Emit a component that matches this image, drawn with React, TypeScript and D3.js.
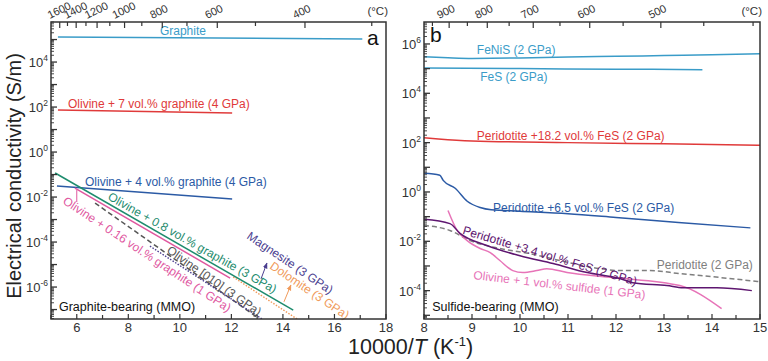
import React from "react";
import * as d3 from "d3";

// x = 10000/T (K^-1), y = electrical conductivity (S/m)
// panel a: graphite-bearing
const graphite = [[5.27, 1.3e5], [17.08, 1.05e5]];
const olivine7Graphite = [[5.27, 74], [12.03, 54]];
const olivine4Graphite = [[5.23, 3.1e-2], [12.03, 8.1e-3]];
const olivine08Graphite = [[5.16, 1.17e-1], [14.4, 9.5e-8]];
const olivine016Graphite = [[5.93, 2.5e-2], [11.95, 2.5e-6]];
const olivine010 = [[6.71, 5.4e-3], [13.04, 4.2e-8]];
const magnesite = [[8.84, 6.6e-5], [13.19, 3.8e-8]];
const dolomite = [[12.07, 2.8e-6], [14.55, 3.8e-8]];

// panel b: sulfide-bearing
const feNiS = [[8, 3.0e5], [8.5, 2.75e5], [9, 2.6e5], [10, 2.7e5], [10.5, 2.8e5], [11, 2.95e5], [12, 3.15e5], [13, 3.4e5], [14, 3.65e5], [15, 4.0e5]];
const feS = [[8, 1.05e5], [10, 1.0e5], [12, 9.5e4], [13.8, 9.1e4]];
const peridotite182 = [[8, 158], [8.3, 141], [9, 117], [11, 100], [13, 89], [15, 79]];
const peridotite65 = [[8, 5.75], [8.33, 4.8], [8.4, 2.95], [8.65, 1.41], [8.9, 0.42], [9.17, 0.234], [9.4, 0.19], [10, 0.166], [11, 0.132], [12, 0.093], [13.3, 0.058], [14.8, 0.035]];
const peridotite34 = [[8, 0.078], [8.54, 0.052], [8.75, 0.021], [9.31, 6.8e-3], [10, 2.6e-3], [10.69, 1.26e-3], [11.4, 5.4e-4], [12.08, 3.1e-4], [12.35, 2.1e-4], [13.06, 1.6e-4], [13.4, 1.3e-4], [14.1, 1.3e-4], [14.83, 1.0e-4]];
const peridotite = [[8, 0.044], [8.54, 0.0275], [8.96, 0.0107], [9.58, 5.1e-3], [10.2, 3.2e-3], [10.83, 1.66e-3], [11.67, 7.8e-4], [12.08, 6.5e-4], [12.7, 6.5e-4], [13.33, 4.9e-4], [14.17, 3.4e-4], [15, 2.3e-4]];
const olivine1Sulfide = [[8.5, 0.178], [8.69, 0.0275], [8.9, 0.0107], [9.17, 5.1e-3], [9.38, 3.5e-3], [9.58, 1.66e-3], [9.85, 6.5e-4], [10.06, 5.4e-4], [10.35, 6.5e-4], [10.56, 7.8e-4], [10.98, 5.4e-4], [11.94, 3.4e-4], [13.33, 1.6e-4], [14.2, 1.86e-5]];

// arrows / leader lines [[x0,y0],[x1,y1]]
const pinkLeader = [[6.0, 0.0204], [6.0, 6.0e-3]];
const magnesiteArrow = [[13.15, 2.3e-6], [13.38, 1.17e-5]];
const dolomiteArrow = [[14.04, 2.2e-7], [14.31, 1.23e-6]];

// axis ticks
const celsiusTicksA = [1600, 1500, 1400, 1300, 1200, 1100, 1000, 900, 800, 700, 600, 500, 400, 300];
const celsiusLabelsA = [1600, 1400, 1200, 1000, 800, 600, 400];
const celsiusTicksB = [950, 900, 850, 800, 750, 700, 650, 600, 550, 500, 450, 400];
const celsiusLabelsB = [900, 800, 700, 600, 500];
const bottomTicksA = d3.range(5, 18.01, 1);
const bottomLabelsA = [6, 8, 10, 12, 14, 16, 18];
const bottomTicksB = d3.range(8, 15.01, 0.5);
const bottomLabelsB = [8, 9, 10, 11, 12, 13, 14, 15];
const yLabelsA = [-6, -4, -2, 0, 2, 4];
const yLabelsB = [-4, -2, 0, 2, 4, 6];

const FONT = "'Liberation Sans', Arial, Helvetica, sans-serif";
const C = {
  lblue: "#3a9cc8",
  red: "#e03a3a",
  blue: "#2b5aa5",
  green: "#1e8c6e",
  pink: "#e0579f",
  lpink: "#e774b8",
  purple: "#5e1670",
  gray: "#7f7f7f",
  dgray: "#555",
  slate: "#4a3d8f",
  orange: "#f09a5a",
  axis: "#333",
};

const panelA = {
  id: "a",
  left: 51, right: 386, top: 22, bottom: 319,
  xDomain: [5, 18],
  yDomain: [10 ** -7.42, 10 ** 5.78],
  curve: d3.curveLinear,
  celsiusTicks: celsiusTicksA, celsiusLabels: celsiusLabelsA,
  bottomTicks: bottomTicksA, bottomLabels: bottomLabelsA,
  yLabels: yLabelsA,
  series: [
    { data: graphite, color: C.lblue },
    { data: olivine7Graphite, color: C.red },
    { data: olivine4Graphite, color: C.blue },
    { data: olivine010, color: C.dgray, dash: "5,3" },
    { data: magnesite, color: C.slate, dash: "1.5,1.5" },
    { data: dolomite, color: C.orange, dash: "1.5,1.5" },
    { data: olivine016Graphite, color: C.pink },
    { data: olivine08Graphite, color: C.green },
  ],
  labels: [
    { t: "Graphite", x: 10.12, y: 1.58e5, c: C.lblue, anchor: "middle" },
    { t: "Olivine + 7 vol.% graphite (4 GPa)", x: 5.66, y: 91, c: C.red },
    { t: "Olivine + 4 vol.% graphite (4 GPa)", x: 6.32, y: 0.031, c: C.blue },
    { t: "Olivine + 0.8 vol.% graphite (3 GPa)", x: 7.17, y: 8.1e-3, c: C.green, r: 29.5 },
    { t: "Olivine + 0.16 vol.% graphite (1 GPa)", x: 5.43, y: 5.5e-3, c: C.pink, r: 33.5 },
    { t: "Olivine [010] (3 GPa)", x: 9.46, y: 3.6e-5, c: C.dgray, r: 35 },
    { t: "Magnesite (3 GPa)", x: 12.57, y: 1.5e-4, c: C.slate, r: 34 },
    { t: "Dolomite (3 GPa)", x: 13.46, y: 7.1e-6, c: C.orange, r: 34 },
    { t: "Graphite-bearing (MMO)", x: 5.31, y: 8.7e-8, c: "#111", size: 12.5 },
    { t: "a", x: 17.26, y: 5.7e4, c: "#111", size: 21 },
  ],
  arrows: [
    { pts: pinkLeader, color: C.pink, head: false },
    { pts: magnesiteArrow, color: C.slate, head: true },
    { pts: dolomiteArrow, color: C.orange, head: true },
  ],
};

const panelB = {
  id: "b",
  left: 424, right: 760, top: 22, bottom: 319,
  xDomain: [8, 15],
  yDomain: [10 ** -5.15, 10 ** 6.89],
  curve: d3.curveMonotoneX,
  celsiusTicks: celsiusTicksB, celsiusLabels: celsiusLabelsB,
  bottomTicks: bottomTicksB, bottomLabels: bottomLabelsB,
  yLabels: yLabelsB,
  series: [
    { data: feNiS, color: C.lblue },
    { data: feS, color: C.lblue },
    { data: peridotite182, color: C.red },
    { data: peridotite65, color: C.blue },
    { data: peridotite, color: C.gray, dash: "5,3" },
    { data: olivine1Sulfide, color: C.lpink },
    { data: peridotite34, color: C.purple },
  ],
  labels: [
    { t: "b", x: 8.125, y: 1.2e6, c: "#111", size: 21 },
    { t: "FeNiS (2 GPa)", x: 9.1, y: 3.9e5, c: C.lblue },
    { t: "FeS (2 GPa)", x: 9.17, y: 3.2e4, c: C.lblue },
    { t: "Peridotite +18.2 vol.% FeS (2 GPa)", x: 9.1, y: 129, c: C.red },
    { t: "Peridotite +6.5 vol.% FeS (2 GPa)", x: 9.44, y: 0.155, c: C.blue },
    { t: "Peridotite +3.4 vol.% FeS (2 GPa)", x: 8.79, y: 0.02, c: C.purple, r: 16.6 },
    { t: "Olivine + 1 vol.% sulfide (1 GPa)", x: 9.02, y: 2.95e-4, c: C.lpink, r: 6.6 },
    { t: "Peridotite (2 GPa)", x: 12.85, y: 7.2e-4, c: C.gray },
    { t: "Sulfide-bearing (MMO)", x: 8.17, y: 1.5e-5, c: "#111", size: 12.5 },
  ],
  arrows: [],
};

function drawPanel(svg, p) {
  const x = d3.scaleLinear().domain(p.xDomain).range([p.left, p.right]);
  const y = d3.scaleLog().domain(p.yDomain).range([p.bottom, p.top]);
  const g = svg.append("g");

  svg.select("defs")
    .append("clipPath").attr("id", "clip-" + p.id)
    .append("rect")
    .attr("x", p.left).attr("y", p.top)
    .attr("width", p.right - p.left).attr("height", p.bottom - p.top);

  // data lines
  const line = d3.line().x((d) => x(d[0])).y((d) => y(d[1])).curve(p.curve);
  const lines = g.append("g").attr("clip-path", `url(#clip-${p.id})`);
  p.series.forEach((s) => {
    lines.append("path")
      .attr("d", line(s.data))
      .attr("fill", "none")
      .attr("stroke", s.color)
      .attr("stroke-width", s.dash === "1.5,1.5" ? 1.4 : 1.5)
      .attr("stroke-dasharray", s.dash || null);
  });

  // arrows
  p.arrows.forEach((a) => {
    g.append("line")
      .attr("x1", x(a.pts[0][0])).attr("y1", y(a.pts[0][1]))
      .attr("x2", x(a.pts[1][0])).attr("y2", y(a.pts[1][1]))
      .attr("stroke", a.color).attr("stroke-width", 1)
      .attr("marker-end", a.head ? `url(#head-${a.color.slice(1)})` : null);
  });

  // labels
  p.labels.forEach((l) => {
    g.append("text")
      .attr("transform", `translate(${x(l.x)},${y(l.y)}) rotate(${l.r || 0})`)
      .attr("text-anchor", l.anchor || "start")
      .attr("font-size", l.size || 12)
      .attr("fill", l.c)
      .text(l.t);
  });

  // frame
  g.append("rect")
    .attr("x", p.left).attr("y", p.top)
    .attr("width", p.right - p.left).attr("height", p.bottom - p.top)
    .attr("fill", "none").attr("stroke", C.axis).attr("stroke-width", 1.5);

  // bottom axis (inward ticks)
  p.bottomTicks.forEach((v) => {
    const major = p.bottomLabels.includes(v);
    g.append("line")
      .attr("x1", x(v)).attr("x2", x(v))
      .attr("y1", p.bottom).attr("y2", p.bottom - (major ? 5 : 4))
      .attr("stroke", C.axis).attr("stroke-width", 1.2);
  });
  p.bottomLabels.forEach((v) => {
    g.append("text")
      .attr("x", x(v)).attr("y", p.bottom + 13)
      .attr("text-anchor", "middle").attr("font-size", 13).attr("fill", C.axis)
      .text(v);
  });

  // top axis in degrees C
  const toX = (c) => 10000 / (c + 273.15);
  p.celsiusTicks.forEach((c) => {
    const major = p.celsiusLabels.includes(c);
    g.append("line")
      .attr("x1", x(toX(c))).attr("x2", x(toX(c)))
      .attr("y1", p.top).attr("y2", p.top + (major ? 6 : 4))
      .attr("stroke", C.axis).attr("stroke-width", 1.2);
  });
  p.celsiusLabels.forEach((c) => {
    g.append("text")
      .attr("transform", `translate(${x(toX(c)) - 10},${p.top - 3}) rotate(-26)`)
      .attr("font-size", 11).attr("fill", C.axis)
      .text(c);
  });
  g.append("text")
    .attr("x", p.right + 2).attr("y", p.top - 7)
    .attr("text-anchor", "end").attr("font-size", 11.5).attr("fill", C.axis)
    .text("(°C)");

  // left axis: log ticks
  const [lo, hi] = y.domain().map(Math.log10);
  for (let d = Math.floor(lo); d <= Math.ceil(hi); d++) {
    for (let k = 1; k <= 9; k++) {
      const v = k * 10 ** d;
      if (v < y.domain()[0] || v > y.domain()[1]) continue;
      g.append("line")
        .attr("x1", p.left).attr("x2", p.left + (k === 1 ? 6 : 3))
        .attr("y1", y(v)).attr("y2", y(v))
        .attr("stroke", C.axis).attr("stroke-width", k === 1 ? 1.3 : 0.9);
    }
  }
  p.yLabels.forEach((e) => {
    const t = g.append("text")
      .attr("x", p.left - 3).attr("y", y(10 ** e) + 5)
      .attr("text-anchor", "end").attr("font-size", 13).attr("fill", C.axis);
    t.append("tspan").text("10");
    t.append("tspan").attr("dy", -6).attr("font-size", 8.5).text(e < 0 ? "-" + -e : e);
  });
}

function App() {
  const svgRef = React.useRef(null);
  React.useEffect(() => {
    const svg = d3.select(svgRef.current);
    svg.selectAll("*").remove();
    const defs = svg.append("defs");
    [C.slate, C.orange].forEach((c) => {
      defs.append("marker")
        .attr("id", "head-" + c.slice(1))
        .attr("viewBox", "0 0 10 10").attr("refX", 9).attr("refY", 5)
        .attr("markerWidth", 6).attr("markerHeight", 6)
        .attr("orient", "auto")
        .append("path").attr("d", "M0,1 L10,5 L0,9 Z").attr("fill", c);
    });

    drawPanel(svg, panelA);
    drawPanel(svg, panelB);

    // axis titles
    svg.append("text")
      .attr("transform", "translate(21,176) rotate(-90)")
      .attr("text-anchor", "middle").attr("font-size", 20).attr("fill", "#222")
      .text("Electrical conductivity (S/m)");
    const xt = svg.append("text")
      .attr("x", 348).attr("y", 354)
      .attr("font-size", 21.5).attr("fill", "#222");
    xt.append("tspan").text("10000/");
    xt.append("tspan").attr("font-style", "italic").text("T");
    xt.append("tspan").text(" (K");
    xt.append("tspan").attr("dy", -8).attr("font-size", 13).text("-1");
    xt.append("tspan").attr("dy", 8).text(")");
  }, []);

  return (
    <svg
      ref={svgRef}
      width={768}
      height={361}
      style={{ position: "absolute", left: 0, top: 0, background: "#fff", fontFamily: FONT }}
    />
  );
}

export default App;
